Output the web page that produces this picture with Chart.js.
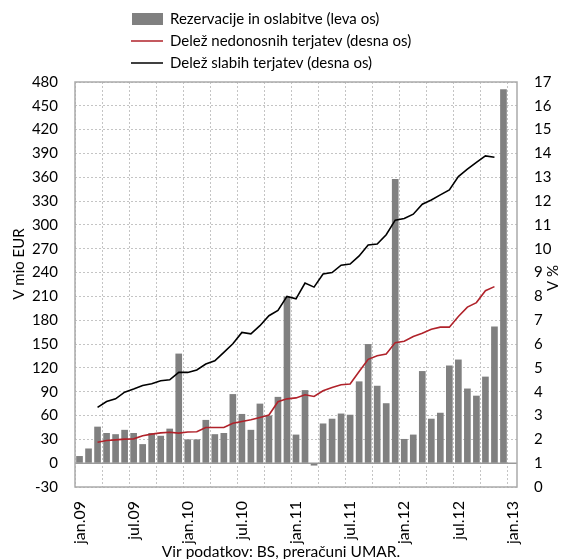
<!DOCTYPE html>
<html>
<head>
<meta charset="utf-8">
<script src="https://cdn.jsdelivr.net/npm/chart.js@4.4.1/dist/chart.umd.min.js"></script>
<style>
  html, body { margin: 0; padding: 0; background: #fff; }
  #wrap { width: 565px; height: 559px; }
</style>
</head>
<body>
<div id="wrap"><canvas id="chart" width="565" height="559"></canvas></div>
<script>
// ---------------------------------------------
// Podatki (mesečno, jan.09 - jan.13)
// ---------------------------------------------
const years = ['09', '10', '11', '12'];
const monthNames = ['jan', 'feb', 'mar', 'apr', 'maj', 'jun', 'jul', 'avg', 'sep', 'okt', 'nov', 'dec'];
const months = [];
years.forEach(y => monthNames.forEach(m => months.push(m + '.' + y)));
months.push('jan.13');

// rezervacije in oslabitve, mio EUR (leva os)
const rezervacije = [
  9, 18.5, 46, 38, 36.5, 42, 38, 24, 38, 34.5, 43.5, 138,
  30, 30, 54.5, 36.5, 38, 87, 62, 42, 75, 60, 83.5, 210,
  36, 92, -3, 50, 56, 62.5, 61, 103, 150, 97.5, 75.5, 358,
  30.5, 36, 116, 56, 63.5, 123, 130.5, 94, 85, 109, 172, 471
];

// delež nedonosnih terjatev, % (desna os)
const nedonosne = [
  null, null, 1.88, 1.95, 1.98, 2.01, 2.02, 2.15, 2.22, 2.27, 2.30, 2.26,
  2.31, 2.32, 2.50, 2.50, 2.50, 2.68, 2.75, 2.82, 2.92, 3.02, 3.58, 3.70,
  3.74, 3.87, 3.80, 4.04, 4.18, 4.29, 4.32, 4.85, 5.36, 5.51, 5.58, 6.06,
  6.12, 6.32, 6.45, 6.62, 6.71, 6.71, 7.16, 7.55, 7.74, 8.24, 8.41, null
];

// delež slabih terjatev, % (desna os)
const slabe = [
  null, null, 3.34, 3.59, 3.70, 3.98, 4.11, 4.26, 4.33, 4.46, 4.50, 4.81,
  4.81, 4.91, 5.16, 5.30, 5.65, 6.01, 6.49, 6.43, 6.77, 7.19, 7.41, 8.00,
  7.90, 8.56, 8.39, 8.94, 9.00, 9.31, 9.36, 9.70, 10.16, 10.20, 10.59, 11.20,
  11.27, 11.45, 11.87, 12.05, 12.26, 12.47, 13.03, 13.34, 13.63, 13.90, 13.84, null
];

const FONT = 'Lato, "Liberation Sans", sans-serif';
const GRID = '#c4c4c4';

// okvir, ničelna črta, legenda, naslovi osi in vir
const decor = {
  id: 'decor',
  beforeDatasetsDraw(chart) {
    const { ctx, chartArea: a, scales } = chart;
    ctx.save();
    ctx.strokeStyle = '#9a9a9a';
    ctx.lineWidth = 1.5;
    const y0 = scales.y.getPixelForValue(0);
    ctx.beginPath();
    ctx.moveTo(a.left, y0);
    ctx.lineTo(a.right, y0);
    ctx.stroke();
    ctx.strokeStyle = '#aaaaaa';
    ctx.strokeRect(a.left, a.top, a.right - a.left, a.bottom - a.top);
    ctx.restore();
  },
  afterDraw(chart) {
    const { ctx } = chart;
    const ds = chart.data.datasets;
    ctx.save();
    ctx.font = '15px ' + FONT;
    ctx.fillStyle = '#000';
    ctx.textBaseline = 'middle';
    ctx.textAlign = 'left';

    // legenda
    const rows = [19, 41, 63];
    ctx.fillStyle = ds[0].backgroundColor;
    ctx.fillRect(132, 13, 31, 12);
    ctx.fillStyle = '#000';
    ctx.fillText(ds[0].label, 170, rows[0]);
    [1, 2].forEach((k, i) => {
      ctx.strokeStyle = ds[k].borderColor;
      ctx.lineWidth = 1.5;
      ctx.beginPath();
      ctx.moveTo(131, rows[i + 1]);
      ctx.lineTo(163, rows[i + 1]);
      ctx.stroke();
      ctx.fillText(ds[k].label, 170, rows[i + 1]);
    });

    // naslova osi
    ctx.textAlign = 'center';
    ctx.save();
    ctx.translate(19, 264);
    ctx.rotate(-Math.PI / 2);
    ctx.fillText('V mio EUR', 0, 0);
    ctx.restore();
    ctx.save();
    ctx.translate(553, 278);
    ctx.rotate(-Math.PI / 2);
    ctx.fillText('V %', 0, 0);
    ctx.restore();

    // vir
    ctx.font = '15.5px ' + FONT;
    ctx.textBaseline = 'alphabetic';
    ctx.fillText('Vir podatkov: BS, preračuni UMAR.', 281, 557);
    ctx.restore();
  }
};

const chart = new Chart(document.getElementById('chart'), {
  data: {
    labels: months,
    datasets: [
      {
        type: 'bar',
        label: 'Rezervacije in oslabitve (leva os)',
        data: rezervacije,
        backgroundColor: '#808080',
        borderWidth: 0,
        categoryPercentage: 1,
        barPercentage: 0.74,
        yAxisID: 'y',
        order: 3
      },
      {
        type: 'line',
        label: 'Delež nedonosnih terjatev (desna os)',
        data: nedonosne,
        borderColor: '#b0222a',
        borderWidth: 1.6,
        pointRadius: 0,
        tension: 0,
        yAxisID: 'y1',
        order: 2
      },
      {
        type: 'line',
        label: 'Delež slabih terjatev (desna os)',
        data: slabe,
        borderColor: '#000000',
        borderWidth: 1.6,
        pointRadius: 0,
        tension: 0,
        yAxisID: 'y1',
        order: 1
      }
    ]
  },
  options: {
    responsive: false,
    animation: false,
    layout: { padding: { top: 82, left: 0, right: 0, bottom: 0 } },
    plugins: {
      legend: { display: false },
      tooltip: { enabled: false }
    },
    scales: {
      x: {
        type: 'category',
        offset: true,
        afterFit: s => { s.height = 72; },
        grid: {
          offset: true,
          drawTicks: false,
          color: c => (c.index % 3 === 0 ? GRID : 'rgba(0,0,0,0)')
        },
        border: { display: false, dash: [2, 2] },
        ticks: {
          autoSkip: false,
          minRotation: 90,
          maxRotation: 90,
          padding: 14,
          color: '#000',
          font: { family: FONT, size: 16 },
          callback: function (val, i) { return i % 6 === 0 ? this.getLabelForValue(val) : ''; }
        }
      },
      y: {
        position: 'left',
        min: -30,
        max: 480,
        afterFit: s => { s.width = 75; },
        grid: { color: GRID, drawTicks: false },
        border: { display: false, dash: [2, 2] },
        ticks: {
          stepSize: 30,
          padding: 17,
          color: '#000',
          font: { family: FONT, size: 15 }
        }
      },
      y1: {
        position: 'right',
        min: 0,
        max: 17,
        afterFit: s => { s.width = 48; },
        grid: { drawOnChartArea: false, drawTicks: false },
        border: { display: false },
        ticks: {
          stepSize: 1,
          padding: 17,
          color: '#000',
          font: { family: FONT, size: 15 }
        }
      }
    }
  },
  plugins: [decor]
});
</script>
</body>
</html>
